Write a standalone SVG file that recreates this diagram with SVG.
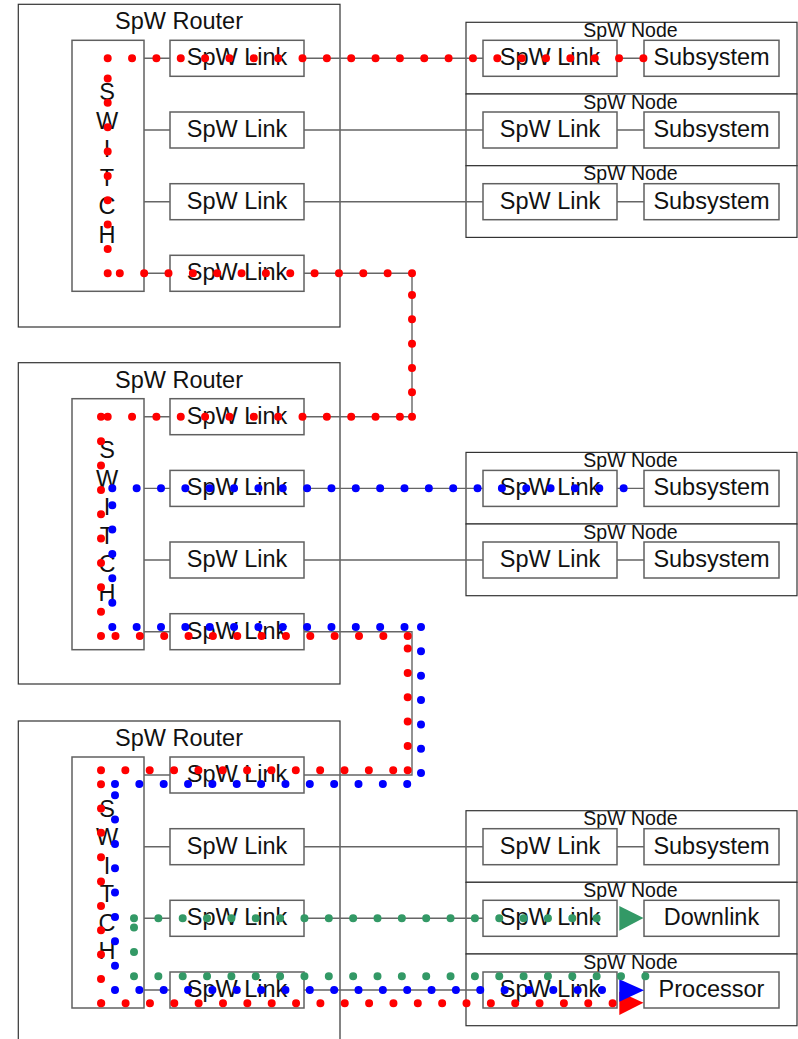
<svg xmlns="http://www.w3.org/2000/svg" width="798" height="1039" viewBox="0 0 798 1039">
<style>
text{font-family:"Liberation Sans",Arial,sans-serif;fill:#111;text-anchor:middle}
.t{font-size:23.5px}
.nl{font-size:19.5px}
.outer{fill:#fff;stroke:#333;stroke-width:1.2}
.box{fill:#fff;stroke:#606060;stroke-width:1.5}
.con{fill:none;stroke:#666;stroke-width:1.4}
.dot{fill:none;stroke-width:8;stroke-linecap:round;stroke-dasharray:0 24.35}
.r{stroke:#ff0000}.b{stroke:#0000ff}.g{stroke:#339966}
</style>
<rect width="798" height="1039" fill="#fff"/>
<g id="router1">
<rect class="outer" x="18.3" y="4.3" width="321.7" height="322.7"/>
<text class="t" x="179" y="29.3">SpW Router</text>
<rect class="box" x="72" y="40.3" width="72" height="251"/>
<text class="t" x="107" y="100">S</text><text class="t" x="107" y="128.5">W</text><text class="t" x="107" y="157">I</text><text class="t" x="107" y="185.5">T</text><text class="t" x="107" y="214">C</text><text class="t" x="107" y="242.5">H</text>
<rect class="box" x="170" y="40.3" width="134" height="36"/><text class="t" x="237" y="65.3">SpW Link</text>
<rect class="box" x="170" y="112" width="134" height="36"/><text class="t" x="237" y="137">SpW Link</text>
<rect class="box" x="170" y="183.7" width="134" height="36"/><text class="t" x="237" y="208.7">SpW Link</text>
<rect class="box" x="170" y="255.3" width="134" height="36"/><text class="t" x="237" y="280.3">SpW Link</text>
</g>
<g id="router2">
<rect class="outer" x="18.3" y="362.7" width="321.7" height="321.3"/>
<text class="t" x="179" y="387.7">SpW Router</text>
<rect class="box" x="72" y="398.7" width="72" height="251"/>
<text class="t" x="107" y="458.4">S</text><text class="t" x="107" y="486.9">W</text><text class="t" x="107" y="515.4">I</text><text class="t" x="107" y="543.9">T</text><text class="t" x="107" y="572.4">C</text><text class="t" x="107" y="600.9">H</text>
<rect class="box" x="170" y="398.7" width="134" height="36"/><text class="t" x="237" y="423.7">SpW Link</text>
<rect class="box" x="170" y="470.4" width="134" height="36"/><text class="t" x="237" y="495.4">SpW Link</text>
<rect class="box" x="170" y="542" width="134" height="36"/><text class="t" x="237" y="567">SpW Link</text>
<rect class="box" x="170" y="613.7" width="134" height="36"/><text class="t" x="237" y="638.7">SpW Link</text>
</g>
<g id="router3">
<rect class="outer" x="18.3" y="721" width="321.7" height="330"/>
<text class="t" x="179" y="746">SpW Router</text>
<rect class="box" x="72" y="757" width="72" height="251"/>
<text class="t" x="107" y="816.7">S</text><text class="t" x="107" y="845.2">W</text><text class="t" x="107" y="873.7">I</text><text class="t" x="107" y="902.2">T</text><text class="t" x="107" y="930.7">C</text><text class="t" x="107" y="959.2">H</text>
<rect class="box" x="170" y="757" width="134" height="36"/><text class="t" x="237" y="782">SpW Link</text>
<rect class="box" x="170" y="828.7" width="134" height="36"/><text class="t" x="237" y="853.7">SpW Link</text>
<rect class="box" x="170" y="900.3" width="134" height="36"/><text class="t" x="237" y="925.3">SpW Link</text>
<rect class="box" x="170" y="972" width="134" height="36"/><text class="t" x="237" y="997">SpW Link</text>
</g>
<g id="node1">
<rect class="outer" x="466" y="22.3" width="331" height="71.7"/>
<text class="nl" x="630.5" y="36.8">SpW Node</text>
<rect class="box" x="483" y="40.3" width="134" height="36"/><text class="t" x="550" y="65.3">SpW Link</text>
<rect class="box" x="644" y="40.3" width="135" height="36"/><text class="t" x="711.5" y="65.3">Subsystem</text>
</g>
<g id="node2">
<rect class="outer" x="466" y="94" width="331" height="71.7"/>
<text class="nl" x="630.5" y="108.5">SpW Node</text>
<rect class="box" x="483" y="112" width="134" height="36"/><text class="t" x="550" y="137">SpW Link</text>
<rect class="box" x="644" y="112" width="135" height="36"/><text class="t" x="711.5" y="137">Subsystem</text>
</g>
<g id="node3">
<rect class="outer" x="466" y="165.7" width="331" height="71.7"/>
<text class="nl" x="630.5" y="180.2">SpW Node</text>
<rect class="box" x="483" y="183.7" width="134" height="36"/><text class="t" x="550" y="208.7">SpW Link</text>
<rect class="box" x="644" y="183.7" width="135" height="36"/><text class="t" x="711.5" y="208.7">Subsystem</text>
</g>
<g id="node4">
<rect class="outer" x="466" y="452.4" width="331" height="71.6"/>
<text class="nl" x="630.5" y="466.9">SpW Node</text>
<rect class="box" x="483" y="470.4" width="134" height="36"/><text class="t" x="550" y="495.4">SpW Link</text>
<rect class="box" x="644" y="470.4" width="135" height="36"/><text class="t" x="711.5" y="495.4">Subsystem</text>
</g>
<g id="node5">
<rect class="outer" x="466" y="524" width="331" height="71.7"/>
<text class="nl" x="630.5" y="538.5">SpW Node</text>
<rect class="box" x="483" y="542" width="134" height="36"/><text class="t" x="550" y="567">SpW Link</text>
<rect class="box" x="644" y="542" width="135" height="36"/><text class="t" x="711.5" y="567">Subsystem</text>
</g>
<g id="node6">
<rect class="outer" x="466" y="810.7" width="331" height="71.6"/>
<text class="nl" x="630.5" y="825.2">SpW Node</text>
<rect class="box" x="483" y="828.7" width="134" height="36"/><text class="t" x="550" y="853.7">SpW Link</text>
<rect class="box" x="644" y="828.7" width="135" height="36"/><text class="t" x="711.5" y="853.7">Subsystem</text>
</g>
<g id="node7">
<rect class="outer" x="466" y="882.3" width="331" height="71.7"/>
<text class="nl" x="630.5" y="896.8">SpW Node</text>
<rect class="box" x="483" y="900.3" width="134" height="36"/><text class="t" x="550" y="925.3">SpW Link</text>
<rect class="box" x="644" y="900.3" width="135" height="36"/><text class="t" x="711.5" y="925.3">Downlink</text>
</g>
<g id="node8">
<rect class="outer" x="466" y="954" width="331" height="71.7"/>
<text class="nl" x="630.5" y="968.5">SpW Node</text>
<rect class="box" x="483" y="972" width="134" height="36"/><text class="t" x="550" y="997">SpW Link</text>
<rect class="box" x="644" y="972" width="135" height="36"/><text class="t" x="711.5" y="997">Processor</text>
</g>
<g id="connectors">
<path class="con" d="M144,58.3H170M144,130H170M144,201.7H170M144,273.3H170M144,416.7H170M144,488.4H170M144,560H170M144,631.7H170M144,775H170M144,846.7H170M144,918.3H170M144,990H170"/>
<path class="con" d="M304,58.3H483M304,130H483M304,201.7H483M304,488.4H483M304,560H483M304,846.7H483M304,918.3H483M304,990H483"/>
<path class="con" d="M617,58.3H644M617,130H644M617,201.7H644M617,488.4H644M617,560H644M617,846.7H644"/>
<path class="con" d="M304,273.3H412V416.7H304M304,631.7H412V775H304"/>
</g>
<g id="packet-paths">
<polygon fill="#ff0000" points="619.3,991.7 643.5,1002.7 619.3,1015"/>
<polygon fill="#0000ff" points="619.3,979.3 644,990.3 619.3,1001.7"/>
<polygon fill="#339966" points="619.3,906 643.5,918 619.3,930.7"/>
<path class="dot r" d="M612.6,1003.3H100.9M101,1003.3V770M101,770.3H408M407.7,770.3V636M407.7,636H101M101,636V416.5M107.7,416.7H412M412,416.7V273.3M412,273.3H107.7M107.7,273.3V58.3M107.7,58.3H643.6"/>
<path class="dot b" d="M112.3,488.3H624M112.3,627V488.3M112.3,627H421M421,627V773.5M115,784H408M115,990V784M115,990H602.5"/>
<path class="dot g" d="M134,976.3H645.6M134,976.3V918.3M134,918.3H597"/>
</g>
</svg>
